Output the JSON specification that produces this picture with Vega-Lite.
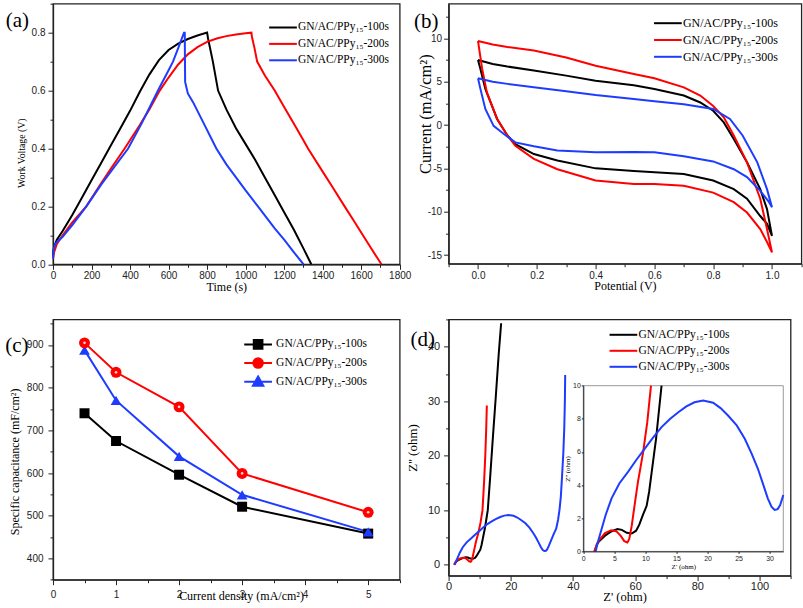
{
  "$schema": "https://vega.github.io/schema/vega-lite/v6.json",
  "background": "white",
  "padding": {"left": 4, "top": 1.7, "right": 0, "bottom": 0},
  "bounds": "flush",
  "columns": 2,
  "align": "each",
  "spacing": {"row": 54.7, "column": 48.6},
  "datasets": {
    "ga": [
      {"s":"100s","x":0,"y":0.03},{"s":"100s","x":5,"y":0.06},{"s":"100s","x":20,"y":0.085},{"s":"100s","x":50,"y":0.115},{"s":"100s","x":100,"y":0.17},{"s":"100s","x":150,"y":0.23},{"s":"100s","x":200,"y":0.29},{"s":"100s","x":250,"y":0.35},{"s":"100s","x":300,"y":0.41},{"s":"100s","x":350,"y":0.47},{"s":"100s","x":400,"y":0.53},{"s":"100s","x":450,"y":0.595},{"s":"100s","x":500,"y":0.655},{"s":"100s","x":550,"y":0.705},{"s":"100s","x":600,"y":0.74},{"s":"100s","x":650,"y":0.762},{"s":"100s","x":700,"y":0.778},{"s":"100s","x":750,"y":0.79},{"s":"100s","x":800,"y":0.8},{"s":"100s","x":805,"y":0.78},{"s":"100s","x":830,"y":0.7},{"s":"100s","x":857,"y":0.6},{"s":"100s","x":900,"y":0.535},{"s":"100s","x":950,"y":0.47},{"s":"100s","x":1000,"y":0.415},{"s":"100s","x":1050,"y":0.36},{"s":"100s","x":1100,"y":0.3},{"s":"100s","x":1150,"y":0.24},{"s":"100s","x":1200,"y":0.18},{"s":"100s","x":1250,"y":0.12},{"s":"100s","x":1300,"y":0.055},{"s":"100s","x":1341,"y":0},
      {"s":"200s","x":0,"y":0.02},{"s":"200s","x":5,"y":0.04},{"s":"200s","x":20,"y":0.07},{"s":"200s","x":50,"y":0.1},{"s":"200s","x":100,"y":0.145},{"s":"200s","x":173,"y":0.2},{"s":"200s","x":250,"y":0.28},{"s":"200s","x":300,"y":0.33},{"s":"200s","x":372,"y":0.4},{"s":"200s","x":450,"y":0.48},{"s":"200s","x":500,"y":0.535},{"s":"200s","x":554,"y":0.6},{"s":"200s","x":600,"y":0.645},{"s":"200s","x":650,"y":0.69},{"s":"200s","x":700,"y":0.725},{"s":"200s","x":750,"y":0.75},{"s":"200s","x":800,"y":0.768},{"s":"200s","x":850,"y":0.78},{"s":"200s","x":900,"y":0.788},{"s":"200s","x":950,"y":0.794},{"s":"200s","x":1000,"y":0.798},{"s":"200s","x":1030,"y":0.8},{"s":"200s","x":1033,"y":0.785},{"s":"200s","x":1045,"y":0.75},{"s":"200s","x":1060,"y":0.7},{"s":"200s","x":1100,"y":0.652},{"s":"200s","x":1151,"y":0.6},{"s":"200s","x":1200,"y":0.543},{"s":"200s","x":1250,"y":0.486},{"s":"200s","x":1300,"y":0.428},{"s":"200s","x":1324,"y":0.4},{"s":"200s","x":1400,"y":0.32},{"s":"200s","x":1450,"y":0.268},{"s":"200s","x":1514,"y":0.2},{"s":"200s","x":1560,"y":0.152},{"s":"200s","x":1600,"y":0.11},{"s":"200s","x":1650,"y":0.057},{"s":"200s","x":1705,"y":0},
      {"s":"300s","x":0,"y":0.02},{"s":"300s","x":3,"y":0.05},{"s":"300s","x":10,"y":0.07},{"s":"300s","x":50,"y":0.095},{"s":"300s","x":100,"y":0.135},{"s":"300s","x":173,"y":0.2},{"s":"300s","x":250,"y":0.275},{"s":"300s","x":300,"y":0.32},{"s":"300s","x":390,"y":0.4},{"s":"300s","x":459,"y":0.485},{"s":"300s","x":500,"y":0.54},{"s":"300s","x":545,"y":0.6},{"s":"300s","x":600,"y":0.67},{"s":"300s","x":623,"y":0.7},{"s":"300s","x":652,"y":0.75},{"s":"300s","x":680,"y":0.8},{"s":"300s","x":684,"y":0.8},{"s":"300s","x":686,"y":0.63},{"s":"300s","x":700,"y":0.59},{"s":"300s","x":727,"y":0.56},{"s":"300s","x":780,"y":0.49},{"s":"300s","x":848,"y":0.4},{"s":"300s","x":900,"y":0.345},{"s":"300s","x":950,"y":0.3},{"s":"300s","x":1000,"y":0.255},{"s":"300s","x":1064,"y":0.2},{"s":"300s","x":1150,"y":0.125},{"s":"300s","x":1200,"y":0.085},{"s":"300s","x":1250,"y":0.042},{"s":"300s","x":1301,"y":0}
    ],
    "gb": [
      {"s":"100s","x":0,"y":7.5},{"s":"100s","x":0.05,"y":7.05},{"s":"100s","x":0.1,"y":6.75},{"s":"100s","x":0.19,"y":6.3},{"s":"100s","x":0.3,"y":5.7},{"s":"100s","x":0.4,"y":5.1},{"s":"100s","x":0.53,"y":4.6},{"s":"100s","x":0.6,"y":4.15},{"s":"100s","x":0.7,"y":3.4},{"s":"100s","x":0.756,"y":2.6},{"s":"100s","x":0.8,"y":1.65},{"s":"100s","x":0.836,"y":0.3},{"s":"100s","x":0.87,"y":-1.6},{"s":"100s","x":0.915,"y":-4.3},{"s":"100s","x":0.96,"y":-7.4},{"s":"100s","x":0.983,"y":-9.7},{"s":"100s","x":1.0,"y":-12.8},{"s":"100s","x":0.983,"y":-11.4},{"s":"100s","x":0.96,"y":-10.5},{"s":"100s","x":0.915,"y":-8.5},{"s":"100s","x":0.87,"y":-7.4},{"s":"100s","x":0.8,"y":-6.4},{"s":"100s","x":0.7,"y":-5.65},{"s":"100s","x":0.53,"y":-5.3},{"s":"100s","x":0.4,"y":-5.0},{"s":"100s","x":0.27,"y":-4.1},{"s":"100s","x":0.19,"y":-3.35},{"s":"100s","x":0.127,"y":-2.2},{"s":"100s","x":0.1,"y":-1.2},{"s":"100s","x":0.065,"y":0.7},{"s":"100s","x":0.025,"y":4.15},{"s":"100s","x":0.008,"y":6.5},{"s":"100s","x":0,"y":7.5},
      {"s":"200s","x":0,"y":9.7},{"s":"200s","x":0.05,"y":9.3},{"s":"200s","x":0.1,"y":9.0},{"s":"200s","x":0.19,"y":8.6},{"s":"200s","x":0.3,"y":7.8},{"s":"200s","x":0.4,"y":6.85},{"s":"200s","x":0.53,"y":5.9},{"s":"200s","x":0.6,"y":5.4},{"s":"200s","x":0.7,"y":4.35},{"s":"200s","x":0.756,"y":3.4},{"s":"200s","x":0.8,"y":2.2},{"s":"200s","x":0.836,"y":0.9},{"s":"200s","x":0.87,"y":-1.2},{"s":"200s","x":0.915,"y":-4.3},{"s":"200s","x":0.96,"y":-8.5},{"s":"200s","x":0.983,"y":-12},{"s":"200s","x":1.0,"y":-14.7},{"s":"200s","x":0.983,"y":-13.5},{"s":"200s","x":0.96,"y":-12},{"s":"200s","x":0.915,"y":-10.1},{"s":"200s","x":0.87,"y":-8.9},{"s":"200s","x":0.8,"y":-7.8},{"s":"200s","x":0.7,"y":-7.0},{"s":"200s","x":0.6,"y":-6.8},{"s":"200s","x":0.53,"y":-6.8},{"s":"200s","x":0.4,"y":-6.4},{"s":"200s","x":0.27,"y":-5.1},{"s":"200s","x":0.19,"y":-3.9},{"s":"200s","x":0.127,"y":-2.4},{"s":"200s","x":0.1,"y":-1.2},{"s":"200s","x":0.065,"y":0.7},{"s":"200s","x":0.03,"y":3.8},{"s":"200s","x":0.014,"y":6.5},{"s":"200s","x":0,"y":9.7},
      {"s":"300s","x":0,"y":5.4},{"s":"300s","x":0.05,"y":5.0},{"s":"300s","x":0.1,"y":4.75},{"s":"300s","x":0.19,"y":4.35},{"s":"300s","x":0.3,"y":3.9},{"s":"300s","x":0.4,"y":3.46},{"s":"300s","x":0.53,"y":3.0},{"s":"300s","x":0.6,"y":2.75},{"s":"300s","x":0.7,"y":2.4},{"s":"300s","x":0.8,"y":1.85},{"s":"300s","x":0.857,"y":0.7},{"s":"300s","x":0.9,"y":-1.2},{"s":"300s","x":0.95,"y":-4.3},{"s":"300s","x":0.983,"y":-7.4},{"s":"300s","x":1.0,"y":-9.5},{"s":"300s","x":0.99,"y":-8.9},{"s":"300s","x":0.96,"y":-7.6},{"s":"300s","x":0.915,"y":-6.0},{"s":"300s","x":0.87,"y":-5.1},{"s":"300s","x":0.8,"y":-4.2},{"s":"300s","x":0.7,"y":-3.6},{"s":"300s","x":0.6,"y":-3.15},{"s":"300s","x":0.53,"y":-3.1},{"s":"300s","x":0.4,"y":-3.15},{"s":"300s","x":0.27,"y":-2.95},{"s":"300s","x":0.19,"y":-2.45},{"s":"300s","x":0.127,"y":-2.0},{"s":"300s","x":0.087,"y":-1.0},{"s":"300s","x":0.053,"y":-0.1},{"s":"300s","x":0.025,"y":1.85},{"s":"300s","x":0.008,"y":4.2},{"s":"300s","x":0,"y":5.4}
    ],
    "gc": [
      {"s":"100s","x":0.5,"y":740},{"s":"100s","x":1,"y":675},{"s":"100s","x":2,"y":596},{"s":"100s","x":3,"y":521},{"s":"100s","x":5,"y":458},
      {"s":"200s","x":0.5,"y":905},{"s":"200s","x":1,"y":836},{"s":"200s","x":2,"y":755},{"s":"200s","x":3,"y":599},{"s":"200s","x":5,"y":508},
      {"s":"300s","x":0.5,"y":888},{"s":"300s","x":1,"y":770},{"s":"300s","x":2,"y":639},{"s":"300s","x":3,"y":549},{"s":"300s","x":5,"y":462}
    ],
    "gd": [
      {"s":"100s","x":1.8,"y":0},{"s":"100s","x":2.2,"y":0.4},{"s":"100s","x":2.5,"y":0.6},{"s":"100s","x":3.5,"y":0.95},{"s":"100s","x":4.5,"y":1.2},{"s":"100s","x":5.5,"y":1.35},{"s":"100s","x":6.2,"y":1.3},{"s":"100s","x":7,"y":1.12},{"s":"100s","x":7.8,"y":1.08},{"s":"100s","x":8.5,"y":1.25},{"s":"100s","x":9,"y":1.6},{"s":"100s","x":9.6,"y":2.2},{"s":"100s","x":10.2,"y":2.75},{"s":"100s","x":10.6,"y":3.6},{"s":"100s","x":11.0,"y":4.75},{"s":"100s","x":11.4,"y":5.9},{"s":"100s","x":11.7,"y":6.75},{"s":"100s","x":12.1,"y":8.2},{"s":"100s","x":12.6,"y":10},{"s":"100s","x":13.3,"y":15.5},{"s":"100s","x":14.2,"y":23},{"s":"100s","x":15.2,"y":31},{"s":"100s","x":16.1,"y":38.5},{"s":"100s","x":16.9,"y":44.3},
      {"s":"200s","x":1.8,"y":0},{"s":"200s","x":2.2,"y":0.45},{"s":"200s","x":2.6,"y":0.7},{"s":"200s","x":3.5,"y":1.1},{"s":"200s","x":4.5,"y":1.28},{"s":"200s","x":5.3,"y":1.22},{"s":"200s","x":6,"y":0.95},{"s":"200s","x":6.6,"y":0.62},{"s":"200s","x":7.1,"y":0.54},{"s":"200s","x":7.4,"y":0.75},{"s":"200s","x":7.8,"y":1.55},{"s":"200s","x":8.3,"y":2.9},{"s":"200s","x":8.8,"y":4.2},{"s":"200s","x":9.6,"y":5.9},{"s":"200s","x":10.3,"y":7.8},{"s":"200s","x":10.9,"y":10},{"s":"200s","x":11.4,"y":15},{"s":"200s","x":11.8,"y":20},{"s":"200s","x":12.1,"y":25},{"s":"200s","x":12.3,"y":29.2},
      {"s":"300s","x":2.0,"y":0},{"s":"300s","x":2.3,"y":0.5},{"s":"300s","x":2.95,"y":1.35},{"s":"300s","x":3.6,"y":2.2},{"s":"300s","x":4.55,"y":3.2},{"s":"300s","x":5.8,"y":4.1},{"s":"300s","x":7.2,"y":4.8},{"s":"300s","x":8.5,"y":5.5},{"s":"300s","x":9.9,"y":6.2},{"s":"300s","x":11.2,"y":6.85},{"s":"300s","x":12.6,"y":7.5},{"s":"300s","x":14,"y":8.0},{"s":"300s","x":15.3,"y":8.4},{"s":"300s","x":16.6,"y":8.75},{"s":"300s","x":17.9,"y":9.0},{"s":"300s","x":19.3,"y":9.1},{"s":"300s","x":20.9,"y":8.97},{"s":"300s","x":22.1,"y":8.65},{"s":"300s","x":23.3,"y":8.2},{"s":"300s","x":24.7,"y":7.6},{"s":"300s","x":26,"y":6.8},{"s":"300s","x":27.1,"y":5.9},{"s":"300s","x":28.1,"y":5.0},{"s":"300s","x":29,"y":4.0},{"s":"300s","x":29.7,"y":3.2},{"s":"300s","x":30.3,"y":2.7},{"s":"300s","x":30.8,"y":2.5},{"s":"300s","x":31.3,"y":2.55},{"s":"300s","x":31.7,"y":2.8},{"s":"300s","x":32.2,"y":3.4},{"s":"300s","x":33,"y":4.5},{"s":"300s","x":33.8,"y":5.6},{"s":"300s","x":34.6,"y":6.6},{"s":"300s","x":35.2,"y":8.2},{"s":"300s","x":35.7,"y":10.2},{"s":"300s","x":36.1,"y":12.5},{"s":"300s","x":36.5,"y":16.3},{"s":"300s","x":36.9,"y":20.5},{"s":"300s","x":37.2,"y":25},{"s":"300s","x":37.4,"y":30},{"s":"300s","x":37.5,"y":34.8}
    ]
  },
  "concat": [
    {
      "width": 346.7,
      "height": 260.6,
      "layer": [
        {
          "data": {"name": "ga"},
          "mark": {"type": "line", "strokeWidth": 2},
          "encoding": {
            "x": {"field": "x", "type": "quantitative", "scale": {"domain": [0, 1800], "nice": false, "zero": false},
              "axis": {"orient": "bottom", "title": "Time (s)", "values": [0,200,400,600,800,1000,1200,1400,1600,1800], "format": "d", "labelOverlap": false, "tickSize": 5, "labelPadding": 1, "titlePadding": 1}},
            "y": {"field": "y", "type": "quantitative", "scale": {"domain": [0, 0.9], "nice": false, "zero": false},
              "axis": {"orient": "left", "title": "Work Voltage (V)", "titleFontSize": 9.8, "titleY": 149, "values": [0,0.2,0.4,0.6,0.8], "format": ".1f", "labelOverlap": false, "tickSize": 5, "labelPadding": 3, "titlePadding": 5}},
            "color": {"field": "s", "type": "nominal", "scale": {"domain": ["100s","200s","300s"], "range": ["#000000","#ff0000","#1e3cff"]},
              "legend": {"title": null, "orient": "none", "legendX": 220, "legendY": 13.8, "rowPadding": 0.4, "symbolType": "M-1.6,0H1.6", "symbolSize": 300, "symbolStrokeWidth": 2, "labelOffset": 5, "labelFontSize": 11.5, "labelExpr": "'GN/AC/PPy₁₅-' + datum.label"}},
            "order": {"value": null}
          }
        },
        {
          "data": {"values": [{}]},
          "mark": {"type": "text", "text": "(a)", "font": "Liberation Serif", "fontSize": 21, "baseline": "middle", "align": "center", "color": "#000"},
          "encoding": {
            "x": {"datum": -185, "type": "quantitative", "axis": {"orient": "bottom", "values": [100,300,500,700,900,1100,1300,1500,1700], "labels": false, "domain": false, "title": null, "tickSize": 3}},
            "y": {"datum": 0.84, "type": "quantitative", "axis": {"orient": "left", "values": [0.1,0.3,0.5,0.7,0.9], "labels": false, "domain": false, "title": null, "tickSize": 3}}
          }
        }
      ],
      "resolve": {"axis": {"x": "independent", "y": "independent"}}
    },
    {
      "width": 352.8,
      "height": 260,
      "layer": [
        {
          "data": {"name": "gb"},
          "mark": {"type": "line", "strokeWidth": 2},
          "encoding": {
            "x": {"field": "x", "type": "quantitative", "scale": {"domain": [-0.1, 1.1], "nice": false, "zero": false},
              "axis": {"orient": "bottom", "title": "Potential (V)", "values": [0,0.2,0.4,0.6,0.8,1], "format": ".1f", "labelOverlap": false, "tickSize": 5, "labelPadding": 2, "titlePadding": 0}},
            "y": {"field": "y", "type": "quantitative", "scale": {"domain": [-16, 14], "nice": false, "zero": false},
              "axis": {"orient": "left", "title": "Current (mA/cm²)", "titleFontSize": 16.5, "titleY": 110, "values": [-15,-10,-5,0,5,10], "format": "d", "labelOverlap": false,
                "labelExpr": "replace(datum.label, '\u2212', '-')", "tickSize": 5, "labelPadding": 2, "titlePadding": -6}},
            "color": {"field": "s", "type": "nominal", "scale": {"domain": ["100s","200s","300s"], "range": ["#000000","#ff0000","#1e3cff"]},
              "legend": {"title": null, "orient": "none", "legendX": 209.3, "legendY": 9.5, "rowPadding": 0.8, "symbolType": "M-1.6,0H1.6", "symbolSize": 300, "symbolStrokeWidth": 2, "labelOffset": 5, "labelFontSize": 12, "labelExpr": "'GN/AC/PPy₁₅-' + datum.label"}},
            "order": {"value": null}
          }
        },
        {
          "data": {"values": [{}]},
          "mark": {"type": "text", "text": "(b)", "font": "Liberation Serif", "fontSize": 21, "baseline": "middle", "align": "center", "color": "#000"},
          "encoding": {
            "x": {"datum": -0.176, "type": "quantitative", "axis": {"orient": "bottom", "values": [-0.1,0.1,0.3,0.5,0.7,0.9,1.1], "labels": false, "domain": false, "title": null, "tickSize": 3}},
            "y": {"datum": 11.85, "type": "quantitative", "axis": {"orient": "left", "values": [-12.5,-7.5,-2.5,2.5,7.5,12.5], "labels": false, "domain": false, "title": null, "tickSize": 3}}
          }
        }
      ],
      "resolve": {"axis": {"x": "independent", "y": "independent"}}
    },
    {
      "width": 346.7,
      "height": 260.3,
      "layer": [
        {
          "data": {"name": "gc"},
          "mark": {"type": "line", "strokeWidth": 2},
          "encoding": {
            "x": {"field": "x", "type": "quantitative", "scale": {"domain": [0, 5.5], "nice": false, "zero": false},
              "axis": {"orient": "bottom", "title": "Current density (mA/cm²)", "titleX": 188, "values": [0,1,2,3,4,5], "format": "d", "labelOverlap": false, "tickSize": 5, "labelPadding": 5, "titlePadding": -9}},
            "y": {"field": "y", "type": "quantitative", "scale": {"domain": [350, 960], "nice": false, "zero": false},
              "axis": {"orient": "left", "title": "Specific capacitance (mF/cm²)", "titleY": 142, "values": [400,500,600,700,800,900], "format": "d", "labelOverlap": false, "tickSize": 5, "labelPadding": 5, "titlePadding": 5}},
            "color": {"field": "s", "type": "nominal", "scale": {"domain": ["100s","200s","300s"], "range": ["#000000","#ff0000","#1e3cff"]}, "legend": null},
            "order": {"value": null}
          }
        },
        {
          "data": {"name": "gc"},
          "transform": [{"filter": "datum.s === '100s'"}],
          "mark": {"type": "point", "shape": "square", "filled": true, "opacity": 1, "size": 100},
          "encoding": {
            "x": {"field": "x", "type": "quantitative", "axis": null},
            "y": {"field": "y", "type": "quantitative", "axis": null},
            "color": {"field": "s", "type": "nominal", "scale": {"domain": ["100s"], "range": ["#000000"]},
              "legend": {"title": null, "orient": "none", "legendX": 195.1, "legendY": 15, "symbolType": "M-1.6,0H1.6M-0.5,-0.5H0.5V0.5H-0.5Z", "symbolSize": 300, "symbolStrokeWidth": 2, "symbolStrokeColor": "#000000", "symbolOpacity": 1, "labelOffset": 8, "labelFontSize": 11.5, "labelExpr": "'GN/AC/PPy₁₅-' + datum.label"}}
          }
        },
        {
          "data": {"name": "gc"},
          "transform": [{"filter": "datum.s === '300s'"}],
          "mark": {"type": "point", "shape": "triangle-up", "filled": true, "opacity": 1, "size": 115},
          "encoding": {
            "x": {"field": "x", "type": "quantitative", "axis": null},
            "y": {"field": "y", "type": "quantitative", "axis": null},
            "color": {"field": "s", "type": "nominal", "scale": {"domain": ["300s"], "range": ["#1e3cff"]},
              "legend": {"title": null, "orient": "none", "legendX": 195.1, "legendY": 52.4, "symbolType": "M-1.6,0H1.6M0,-0.62L0.6,0.45H-0.6Z", "symbolSize": 300, "symbolStrokeWidth": 2, "symbolStrokeColor": "#1e3cff", "symbolOpacity": 1, "labelOffset": 8, "labelFontSize": 11.5, "labelExpr": "'GN/AC/PPy₁₅-' + datum.label"}}
          }
        },
        {
          "data": {"name": "gc"},
          "transform": [{"filter": "datum.s === '200s'"}],
          "mark": {"type": "point", "shape": "circle", "filled": true, "opacity": 1, "size": 120},
          "encoding": {
            "x": {"field": "x", "type": "quantitative", "axis": null},
            "y": {"field": "y", "type": "quantitative", "axis": null},
            "color": {"field": "s", "type": "nominal", "scale": {"domain": ["200s"], "range": ["#ff0000"]},
              "legend": {"title": null, "orient": "none", "legendX": 195.1, "legendY": 33.7, "symbolType": "M-1.6,0H1.6M0.55,0A0.55,0.55,0,1,1,-0.55,0A0.55,0.55,0,1,1,0.55,0Z", "symbolSize": 300, "symbolStrokeWidth": 2, "symbolStrokeColor": "#ff0000", "symbolOpacity": 1, "labelOffset": 8, "labelFontSize": 11.5, "labelExpr": "'GN/AC/PPy₁₅-' + datum.label"}}
          }
        },
        {
          "data": {"name": "gc"},
          "transform": [{"filter": "datum.s === '200s'"}],
          "mark": {"type": "point", "shape": "circle", "filled": true, "opacity": 0.8, "size": 7, "color": "#ffffff"},
          "encoding": {"x": {"field": "x", "type": "quantitative", "axis": null}, "y": {"field": "y", "type": "quantitative", "axis": null}}
        },
        {
          "data": {"values": [{}]},
          "mark": {"type": "text", "text": "(c)", "font": "Liberation Serif", "fontSize": 21, "baseline": "middle", "align": "center", "color": "#000"},
          "encoding": {
            "x": {"datum": -0.574, "type": "quantitative", "axis": {"orient": "bottom", "values": [0.5,1.5,2.5,3.5,4.5,5.5], "labels": false, "domain": false, "title": null, "tickSize": 3}},
            "y": {"datum": 898, "type": "quantitative", "axis": {"orient": "left", "values": [350,450,550,650,750,850,950], "labels": false, "domain": false, "title": null, "tickSize": 3}}
          }
        }
      ],
      "resolve": {"scale": {"color": "independent"}, "legend": {"color": "independent"}, "axis": {"x": "independent", "y": "independent"}}
    },
    {
      "width": 342,
      "height": 256.2,
      "layer": [
        {
          "layer": [
            {
              "data": {"name": "gd"},
              "mark": {"type": "line", "strokeWidth": 2},
              "encoding": {
                "x": {"field": "x", "type": "quantitative", "scale": {"domain": [0, 110], "nice": false, "zero": false},
                  "axis": {"orient": "bottom", "title": "Z' (ohm)", "titleFontSize": 12.5, "titleX": 176, "labelFontSize": 11, "values": [0,20,40,60,80,100], "format": "d", "labelOverlap": false, "tickSize": 5, "labelPadding": 0, "titlePadding": -1}},
                "y": {"field": "y", "type": "quantitative", "scale": {"domain": [-2, 45], "nice": false, "zero": false},
                  "axis": {"orient": "left", "title": "Z'' (ohm)", "titleFontSize": 13, "labelFontSize": 11, "values": [0,10,20,30,40], "format": "d", "labelOverlap": false, "tickSize": 5, "labelPadding": 4, "titlePadding": 8}},
                "color": {"field": "s", "type": "nominal", "scale": {"domain": ["100s","200s","300s"], "range": ["#000000","#ff0000","#1e3cff"]},
                  "legend": {"title": null, "orient": "none", "legendX": 164.8, "legendY": 5.4, "rowPadding": 0, "symbolType": "M-1.6,0H1.6", "symbolSize": 300, "symbolStrokeWidth": 2, "labelOffset": 5, "labelFontSize": 11.5, "labelExpr": "'GN/AC/PPy₁₅-' + datum.label"}},
                "order": {"value": null}
              }
            },
            {
              "data": {"values": [{}]},
              "mark": {"type": "text", "text": "(d)", "font": "Liberation Serif", "fontSize": 21, "baseline": "middle", "align": "center", "color": "#000"},
              "encoding": {
                "x": {"datum": -8.3, "type": "quantitative", "axis": {"orient": "bottom", "values": [10,30,50,70,90,110], "labels": false, "domain": false, "title": null, "tickSize": 3}},
                "y": {"datum": 41.3, "type": "quantitative", "axis": {"orient": "left", "values": [5,15,25,35,45], "labels": false, "domain": false, "title": null, "tickSize": 3}}
              }
            }
          ],
          "resolve": {"axis": {"x": "independent", "y": "independent"}}
        },
        {
          "layer": [
            {
              "data": {"values": [{}]},
              "mark": {"type": "rect", "fill": "transparent", "stroke": "#999999", "strokeWidth": 1},
              "encoding": {"x": {"datum": 0}, "x2": {"datum": 32.2}, "y": {"datum": 0}, "y2": {"datum": 10}}
            },
            {
              "data": {"name": "gd"},
              "transform": [{"filter": "datum.x <= 32.25 && datum.y <= 10.01"}],
              "mark": {"type": "line", "strokeWidth": 2},
              "encoding": {
                "x": {"field": "x", "type": "quantitative", "scale": {"domain": [0, 32.2], "range": [134.7, 334.7], "nice": false, "zero": false},
                  "axis": {"orient": "bottom", "offset": -24.2, "zindex": 2, "title": "Z' (ohm)", "titleFontSize": 7, "labelFontSize": 7, "values": [0,5,10,15,20,25,30], "format": "d", "labelOverlap": false, "tickSize": 2, "domainWidth": 1, "labelPadding": 1, "titlePadding": 1}},
                "y": {"field": "y", "type": "quantitative", "scale": {"domain": [0, 10], "range": [232, 66.3], "nice": false, "zero": false},
                  "axis": {"orient": "left", "offset": -134.7, "zindex": 2, "title": "Z'' (ohm)", "titleFontSize": 7, "labelFontSize": 7, "values": [0,2,4,6,8,10], "format": "d", "labelOverlap": false, "tickSize": 2, "domainWidth": 1, "labelPadding": 1, "titlePadding": 2}},
                "color": {"field": "s", "type": "nominal", "legend": null},
                "order": {"value": null}
              }
            }
          ]
        }
      ],
      "resolve": {"scale": {"x": "independent", "y": "independent"}}
    }
  ],
  "resolve": {"scale": {"color": "independent"}},
  "config": {
    "view": {"stroke": "#222222", "strokeWidth": 1.3},
    "axis": {"domainColor": "#222222", "domainWidth": 1.3, "tickColor": "#222222", "tickWidth": 1, "labelFont": "Liberation Sans", "labelFontSize": 10, "labelColor": "#222222", "titleFont": "Liberation Serif", "titleFontSize": 12, "titleFontWeight": "normal", "titleColor": "#000000", "grid": false, "labelFlush": false, "labelOverlap": false, "labelPadding": 2, "zindex": 1},
    "legend": {"labelFont": "Liberation Serif", "labelFontSize": 12, "labelColor": "#000000", "labelLimit": 400, "padding": 0}
  }
}
